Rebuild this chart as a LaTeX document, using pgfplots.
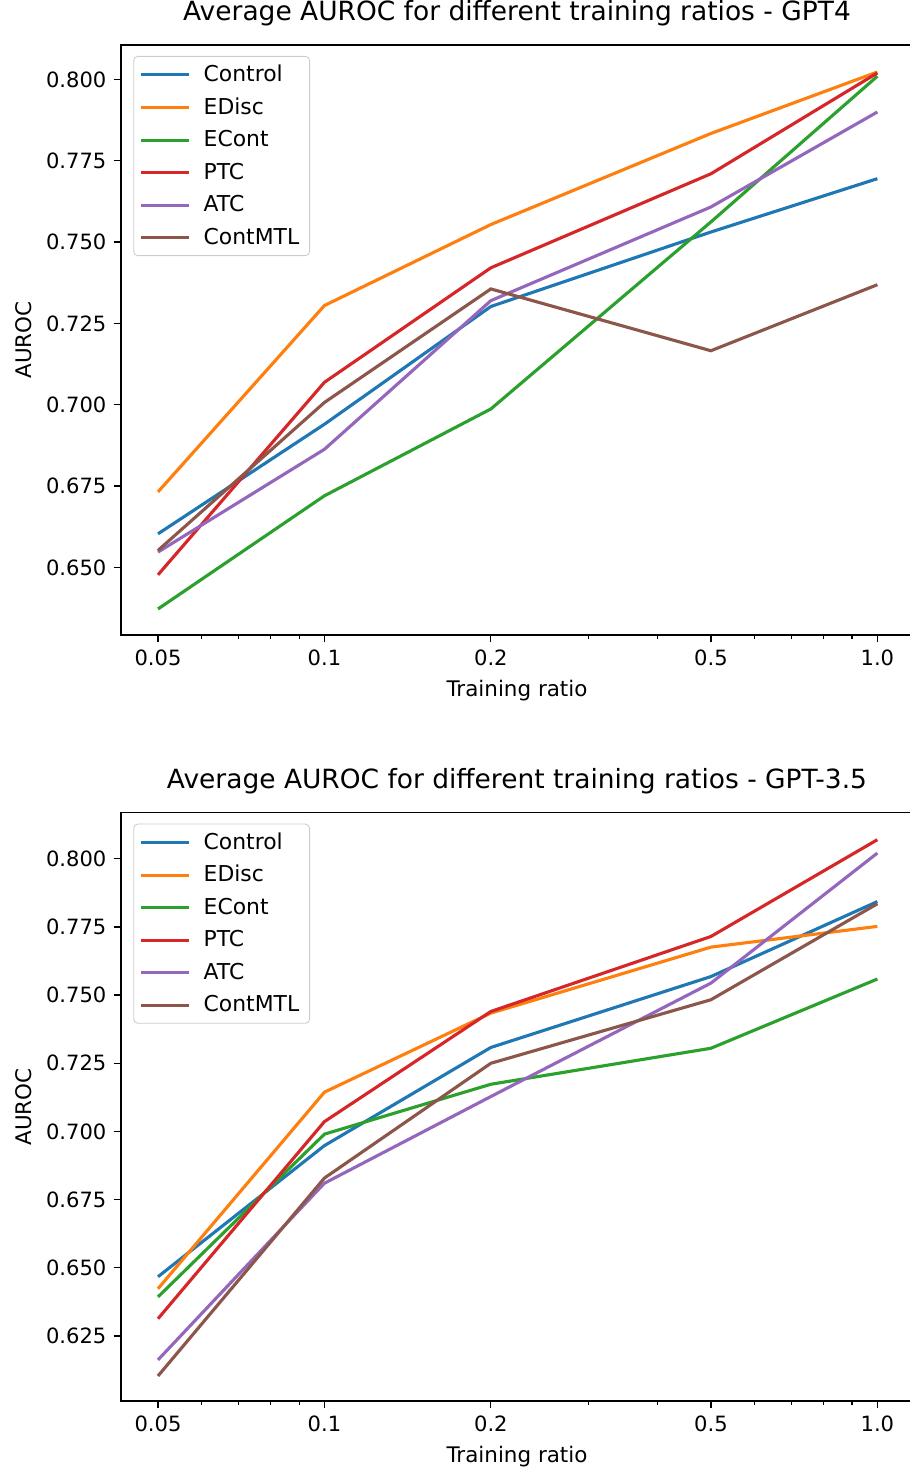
\documentclass[border=0pt]{standalone}
\usepackage{fontspec}
\setmainfont{DejaVu Sans}
\usepackage{pgfplots}
\pgfplotsset{compat=1.18}

\definecolor{tabblue}{RGB}{31,119,180}
\definecolor{taborange}{RGB}{255,127,14}
\definecolor{tabgreen}{RGB}{44,160,44}
\definecolor{tabred}{RGB}{214,39,40}
\definecolor{tabpurple}{RGB}{148,103,189}
\definecolor{tabbrown}{RGB}{140,86,75}

\pgfkeys{/pgf/number format/assume math mode=true}
\pgfplotsset{legend image code/.code={\draw[#1] (0pt,0pt) -- (22.9pt,0pt);}}
\pgfplotsset{
  aurocax/.style={
    scale only axis, width=380.16pt,
    xtick={0.05,0.1,0.2,0.5,1.0},
    xticklabels={0.05,0.1,0.2,0.5,1.0},
    minor xtick={0.06,0.07,0.08,0.09,0.3,0.4,0.6,0.7,0.8,0.9},
    xtick pos=bottom, ytick pos=left,
    tick align=outside,
    major tick length=3.5pt, minor tick length=2pt,
    every tick/.append style={black, line width=0.6pt},
    axis line style={line width=0.6pt},
    yticklabel style={/pgf/number format/fixed, /pgf/number format/fixed zerofill, /pgf/number format/precision=3},
    tick label style={font=\fontsize{10.1}{12}\selectfont},
    label style={font=\fontsize{10.3}{12}\selectfont},
    title style={font=\fontsize{12.7}{15}\selectfont, at={(0.5,1)}, anchor=base, yshift=5.8pt},
    xlabel={Training ratio}, ylabel={AUROC},
    legend cell align=left,
    legend style={at={(0.0155,0.9814)}, anchor=north west,
      draw=black!20, rounded corners=2pt,
      font=\fontsize{10.5}{12.6}\selectfont, row sep=2.3pt,
      inner xsep=3pt, inner ysep=2pt,
      /tikz/every odd column/.append style={column sep=4.2pt}},
    every axis plot/.append style={line width=1.5pt},
  }
}

\begin{document}
\begin{tikzpicture}
\path[use as bounding box] (-58.08pt,21.6pt) rectangle (378.24pt,-684.96pt);

\begin{axis}[xmode=log, xmin=0.04286, xmax=1.16, aurocax,
  height=283.2pt, at={(0pt,0pt)}, anchor=north west,
  ymin=0.6292, ymax=0.8106,
  ytick={0.650,0.675,0.700,0.725,0.750,0.775,0.800},
  title={Average AUROC for different training ratios - GPT4}]
\addplot[tabblue] coordinates {(0.05,0.6603) (0.1,0.6940) (0.2,0.7302) (0.5,0.7531) (1.0,0.7695)};
\addlegendentry{Control}
\addplot[taborange] coordinates {(0.05,0.6732) (0.1,0.7305) (0.2,0.7554) (0.5,0.7834) (1.0,0.8023)};
\addlegendentry{EDisc}
\addplot[tabgreen] coordinates {(0.05,0.6372) (0.1,0.6720) (0.2,0.6987) (0.5,0.7562) (1.0,0.8010)};
\addlegendentry{ECont}
\addplot[tabred] coordinates {(0.05,0.6477) (0.1,0.7069) (0.2,0.7421) (0.5,0.7710) (1.0,0.8020)};
\addlegendentry{PTC}
\addplot[tabpurple] coordinates {(0.05,0.6547) (0.1,0.6863) (0.2,0.7320) (0.5,0.7608) (1.0,0.7900)};
\addlegendentry{ATC}
\addplot[tabbrown] coordinates {(0.05,0.6552) (0.1,0.7007) (0.2,0.7356) (0.5,0.7166) (1.0,0.7369)};
\addlegendentry{ContMTL}
\end{axis}

\begin{axis}[xmode=log, xmin=0.04286, xmax=1.16, aurocax,
  height=282.4pt, at={(0pt,-368.5pt)}, anchor=north west,
  ymin=0.6011, ymax=0.8169,
  ytick={0.625,0.650,0.675,0.700,0.725,0.750,0.775,0.800},
  title={Average AUROC for different training ratios - GPT-3.5}]
\addplot[tabblue] coordinates {(0.05,0.6467) (0.1,0.6948) (0.2,0.7308) (0.5,0.7568) (1.0,0.7843)};
\addlegendentry{Control}
\addplot[taborange] coordinates {(0.05,0.6423) (0.1,0.7144) (0.2,0.7434) (0.5,0.7676) (1.0,0.7752)};
\addlegendentry{EDisc}
\addplot[tabgreen] coordinates {(0.05,0.6393) (0.1,0.6990) (0.2,0.7173) (0.5,0.7305) (1.0,0.7559)};
\addlegendentry{ECont}
\addplot[tabred] coordinates {(0.05,0.6313) (0.1,0.7036) (0.2,0.7440) (0.5,0.7715) (1.0,0.8070)};
\addlegendentry{PTC}
\addplot[tabpurple] coordinates {(0.05,0.6162) (0.1,0.6810) (0.2,0.7128) (0.5,0.7544) (1.0,0.8021)};
\addlegendentry{ATC}
\addplot[tabbrown] coordinates {(0.05,0.6103) (0.1,0.6829) (0.2,0.7250) (0.5,0.7483) (1.0,0.7835)};
\addlegendentry{ContMTL}
\end{axis}
\end{tikzpicture}
\end{document}
